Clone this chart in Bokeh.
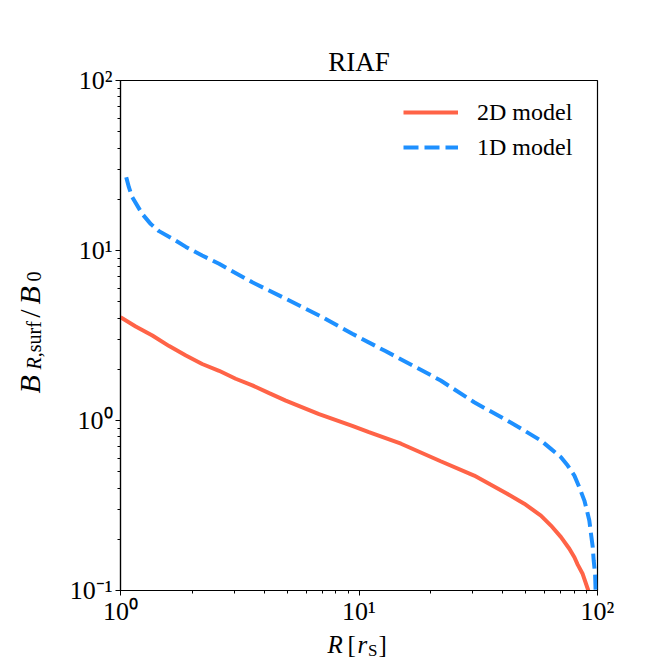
import math
from bokeh.plotting import figure
from bokeh.layouts import row, column
from bokeh.models import (Range1d, FixedTicker, CustomJSTickFormatter, Label,
                          Legend, LegendItem)
from bokeh.embed import file_html
from bokeh.resources import INLINE

# ---- data ----
r_2d = [1.0, 1.158, 1.36, 1.60, 1.88, 2.20, 2.59, 3.04, 3.57, 4.2, 4.93,
        6.8, 9.37, 11.0, 15.0, 22.0, 30.4, 41.8, 49.3, 57.9, 63.8, 70.3,
        76.2, 80.0, 82.6, 86.7, 91.5]
b_2d = [4.05, 3.57, 3.16, 2.74, 2.41, 2.15, 1.96, 1.76, 1.61, 1.45, 1.31,
        1.09, 0.93, 0.854, 0.73, 0.576, 0.474, 0.371, 0.324, 0.276, 0.241,
        0.206, 0.176, 0.157, 0.142, 0.125, 0.1]

r_1d = [1.057, 1.085, 1.12, 1.234, 1.34, 1.45, 1.673, 1.88, 2.2, 2.59, 3.57,
        4.93, 6.8, 9.37, 12.9, 17.9, 22.0, 30.4, 41.8, 49.3, 57.9, 63.8,
        70.3, 75.0, 80.0, 83.9, 88.1, 90.3, 92.4, 93.9, 95.5, 96.4, 97.7,
        98.2]
b_1d = [27.0, 23.5, 20.6, 16.4, 14.3, 13.0, 11.6, 10.5, 9.35, 8.35, 6.5,
        5.2, 4.15, 3.24, 2.56, 2.01, 1.72, 1.28, 1.0, 0.873, 0.762, 0.681,
        0.608, 0.543, 0.474, 0.405, 0.338, 0.295, 0.258, 0.216, 0.18, 0.15,
        0.125, 0.1]

series_names = ["2D model", "1D model"]
x_tick_values = [1, 10, 100]
x_tick_labels = ["10\u2070", "10\u00b9", "10\u00b2"]
y_tick_values = [0.1, 1, 10, 100]
y_tick_labels = ["10\u207b\u00b9", "10\u2070", "10\u00b9", "10\u00b2"]
title_text = "RIAF"

SERIF = "Liberation Serif"
RED = "#FF6347"
BLUE = "#1E90FF"

PAGE_H = 660
LEFT_W = 60
BORDER_B = 39
MAIN_W = 60 + 477 + 59
MAIN_H = 80 + 510 + BORDER_B
FULL_W = LEFT_W + MAIN_W
BOT_H = PAGE_H - MAIN_H

# ---------------- main plot ----------------
p = figure(x_axis_type="log", y_axis_type="log",
           x_range=Range1d(1, 100), y_range=Range1d(0.1, 100),
           frame_width=477, frame_height=510,
           min_border_left=60, min_border_right=59,
           min_border_top=80, min_border_bottom=BORDER_B,
           output_backend="svg", toolbar_location=None)
p.xgrid.visible = False
p.ygrid.visible = False
p.outline_line_color = "black"
p.outline_line_width = 1.2
p.background_fill_color = "white"
p.border_fill_color = "white"

p.title.text = title_text
p.title.align = "center"
p.title.text_font = SERIF
p.title.text_font_size = "27px"
p.title.text_font_style = "normal"
p.title.text_color = "black"
p.title.standoff = 7

def minor(decades):
    out = []
    for d in decades:
        for k in range(2, 10):
            out.append(k * 10.0 ** d)
    return out

p.xaxis.ticker = FixedTicker(ticks=x_tick_values, minor_ticks=minor([0, 1]))
p.yaxis.ticker = FixedTicker(ticks=y_tick_values, minor_ticks=minor([-1, 0, 1]))

fmt_code = """
let best = 0; let bd = 1e9;
for (let i = 0; i < vals.length; i++) {
  const d = Math.abs(Math.log10(tick) - Math.log10(vals[i]));
  if (d < bd) { bd = d; best = i; }
}
return labs[best];
"""
p.xaxis.formatter = CustomJSTickFormatter(args=dict(vals=x_tick_values, labs=x_tick_labels), code=fmt_code)
p.yaxis.formatter = CustomJSTickFormatter(args=dict(vals=y_tick_values, labs=y_tick_labels), code=fmt_code)

for ax in (p.xaxis[0], p.yaxis[0]):
    ax.axis_line_color = "black"
    ax.axis_line_width = 1.2
    ax.major_tick_out = 5
    ax.major_tick_in = 0
    ax.minor_tick_out = 3
    ax.minor_tick_in = 0
    ax.major_tick_line_color = "black"
    ax.minor_tick_line_color = "black"
    ax.major_label_text_font = SERIF
    ax.major_label_text_font_size = "26px"
    ax.major_label_text_color = "black"
    ax.axis_label = None
p.xaxis.major_label_standoff = 1
p.yaxis.major_label_standoff = 3

l2 = p.line(r_2d, b_2d, line_color=RED, line_width=4)
l1 = p.line(r_1d, b_1d, line_color=BLUE, line_width=4, line_dash="15 6")

legend = Legend(items=[LegendItem(label=series_names[0], renderers=[l2]),
                       LegendItem(label=series_names[1], renderers=[l1])],
                location=(283, 428), orientation="vertical",
                glyph_width=55, glyph_height=30, label_height=30,
                label_standoff=19, spacing=5, padding=0, margin=0,
                label_text_font=SERIF, label_text_font_size="24px",
                label_text_color="black",
                border_line_alpha=0, background_fill_alpha=0)
p.add_layout(legend, "center")

# ---------------- strips carrying the axis labels ----------------
def strip(w, h):
    f = figure(width=w, height=h, x_range=Range1d(0, w), y_range=Range1d(0, h),
               title=None, min_border=0, x_axis_location=None,
               y_axis_location=None, output_backend="svg",
               toolbar_location=None)
    f.xgrid.visible = False
    f.ygrid.visible = False
    f.outline_line_color = None
    f.background_fill_color = "white"
    f.border_fill_color = "white"
    return f

def lab(f, text, x, y, size, style="normal", angle=0.0, align="left",
        baseline="alphabetic"):
    f.add_layout(Label(x=x, y=y, x_units="screen", y_units="screen",
                       text=text, text_font=SERIF, text_font_size=size,
                       text_font_style=style, text_color="black",
                       text_align=align, text_baseline=baseline,
                       angle=angle))

# y label: B_{R,surf}/B_0, reading upwards.
# this strip shares the plot's frame rows, so y is measured from the frame bottom
left = strip(LEFT_W, MAIN_H)
a = math.pi / 2
bx, sx = 29, 33.5
lab(left, "B", bx, 197, "30px", "italic", a)
lab(left, "R", sx, 221, "20px", "italic", a)
lab(left, ",surf", sx, 233.2, "20px", "normal", a)
lab(left, "/", bx, 277, "30px", "normal", a, "center")
lab(left, "B", bx, 286, "30px", "italic", a)
lab(left, "0", sx, 309, "20px", "normal", a)

# x label: R [r_S], vertically centred on its line so it stays inside the strip
bottom = strip(FULL_W, BOT_H)
ym, ys = 16.4, 9.7
lab(bottom, "R", 327, ym, "25px", "italic", baseline="middle")
lab(bottom, "[", 347, ym, "25px", baseline="middle")
lab(bottom, "r", 357, ym, "25px", "italic", baseline="middle")
lab(bottom, "S", 367.5, ys, "17px", baseline="middle")
lab(bottom, "]", 378, ym, "25px", baseline="middle")

layout = column(row(left, p, spacing=0), bottom, spacing=0)

open("out.html", "w").write(file_html(layout, INLINE))
